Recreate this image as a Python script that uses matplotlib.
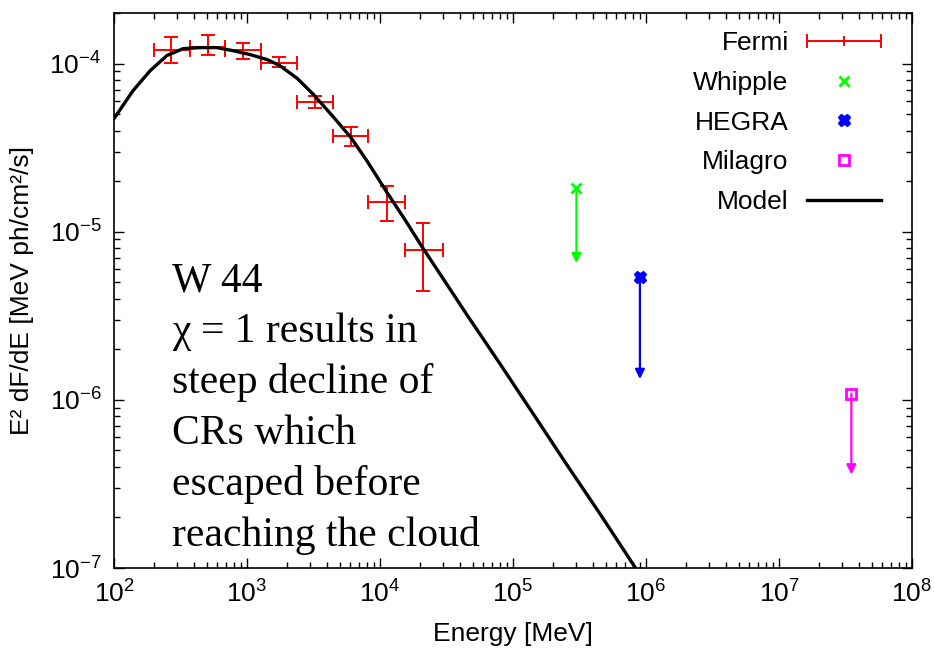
import matplotlib
matplotlib.use("Agg")
import matplotlib.pyplot as plt
from matplotlib.container import ErrorbarContainer
from matplotlib.legend_handler import HandlerErrorbar
from matplotlib.ticker import LogLocator, FixedLocator, NullFormatter

plt.rcParams["font.family"] = ["Liberation Sans", "DejaVu Sans"]
plt.rcParams["mathtext.default"] = "regular"

# Fermi points: bin centres / edges (MeV) and E^2 dF/dE with error range
fermi_e = [268, 509, 933, 1742, 3243, 6053, 11300, 21000]
fermi_elo = [200, 373, 684, 1274, 2376, 4432, 8130, 15400]
fermi_ehi = [373, 684, 1274, 2376, 4432, 8130, 15400, 29800]
fermi_f = [1.21e-4, 1.26e-4, 1.21e-4, 1.01e-4, 5.94e-5, 3.73e-5, 1.51e-5, 7.8e-6]
fermi_flo = [1.01e-4, 1.12e-4, 1.07e-4, 9.5e-5, 5.47e-5, 3.25e-5, 1.16e-5, 4.45e-6]
fermi_fhi = [1.43e-4, 1.47e-4, 1.32e-4, 1.09e-4, 6.45e-5, 4.22e-5, 1.88e-5, 1.12e-5]

# upper limits: energy, marker value, arrow tip value
ul_names = ["Whipple", "HEGRA", "Milagro"]
ul_e = [3.0e5, 9.0e5, 3.5e7]
ul_f = [1.83e-5, 5.4e-6, 1.09e-6]
ul_tip = [6.5e-6, 1.33e-6, 3.6e-7]
ul_colors = ["#00ff00", "#0000ff", "#ff00ff"]
ul_markers = ["x", "X", "s"]

# model curve
model_e = [100, 139, 187, 250, 330, 444, 594, 785, 1054, 1413, 1742, 2371,
           3133, 4436, 6053, 8000, 1.13e4, 1.54e4, 2.1e4, 2.5e4, 4.51e4,
           7.98e4, 1.413e5, 2.547e5, 4.51e5, 8.41e5]
model_f = [4.71e-5, 6.90e-5, 9.08e-5, 1.117e-4, 1.227e-4, 1.245e-4, 1.245e-4,
           1.194e-4, 1.132e-4, 1.057e-4, 9.8e-5, 8.2e-5, 6.6e-5, 4.84e-5,
           3.63e-5, 2.63e-5, 1.71e-5, 1.18e-5, 8.0e-6, 6.5e-6, 3.2e-6,
           1.64e-6, 8.3e-7, 4.1e-7, 2.1e-7, 9.9e-8]

note_lines = ["W 44", "\u03c7 = 1 results in", "steep decline of",
              "CRs which", "escaped before", "reaching the cloud"]

x_ticks = [1e2, 1e3, 1e4, 1e5, 1e6, 1e7, 1e8]
y_ticks = [1e-7, 1e-6, 1e-5, 1e-4]

fs = 19

fig = plt.figure(figsize=(9.35, 6.53), dpi=100)
ax = fig.add_axes([114 / 935, 1 - 568 / 653, 798 / 935, 555 / 653])
ax.set_xscale("log")
ax.set_yscale("log")
ax.set_xlim(1e2, 1e8)
ax.set_ylim(1e-7, 2e-4)

xerr = [[c - lo for c, lo in zip(fermi_e, fermi_elo)],
        [hi - c for c, hi in zip(fermi_e, fermi_ehi)]]
yerr = [[c - lo for c, lo in zip(fermi_f, fermi_flo)],
        [hi - c for c, hi in zip(fermi_f, fermi_fhi)]]
ax.errorbar(fermi_e, fermi_f, xerr=xerr, yerr=yerr, fmt="none", ecolor="#ff0000",
            elinewidth=1.4, capsize=5, capthick=1.4)
# legend entry: horizontal bar with centre tick, like gnuplot's key
fermi_key = ax.errorbar([float("nan")], [float("nan")], xerr=[1], fmt="|",
                        color="#ff0000", ms=7, mew=1.4, elinewidth=1.4,
                        capsize=5, capthick=1.4, label="Fermi")

handles = [fermi_key]
for name, e, f, tip, c, m in zip(ul_names, ul_e, ul_f, ul_tip, ul_colors, ul_markers):
    ax.annotate("", xy=(e, tip), xytext=(e, f),
                arrowprops=dict(arrowstyle="-|>", color=c, lw=1.6, mutation_scale=14,
                                shrinkA=0, shrinkB=0))
    mfc = "none" if m == "s" else c
    h, = ax.plot([e], [f], linestyle="none", marker=m, color=c, mfc=mfc, ms=7.5,
                 mew=2, label=name)
    handles.append(h)

h, = ax.plot(model_e, model_f, color="black", lw=2.4, label="Model")
handles.append(h)

for i, line in enumerate(note_lines):
    fig.text(172 / 935, 1 - (291 + 51 * i) / 653, line, family="Liberation Serif",
             fontsize=30, va="baseline", ha="left")

ax.xaxis.set_major_locator(FixedLocator(x_ticks))
ax.yaxis.set_major_locator(FixedLocator(y_ticks))
for axis in (ax.xaxis, ax.yaxis):
    axis.set_minor_locator(LogLocator(base=10, subs=range(2, 10), numticks=100))
    axis.set_minor_formatter(NullFormatter())
ax.tick_params(which="both", direction="in", top=True, right=True, labelsize=fs)
ax.tick_params(which="major", length=7, width=1, pad=9)
ax.tick_params(which="minor", length=4, width=1)
for s in ax.spines.values():
    s.set_linewidth(1.2)

ax.set_xlabel("Energy [MeV]", fontsize=fs, labelpad=10)
ax.set_ylabel("E\u00b2 dF/dE [MeV ph/cm\u00b2/s]", fontsize=fs)
ax.yaxis.set_label_coords(-0.1, 0.5)

ax.legend(handles=handles, loc="upper right", bbox_to_anchor=(881 / 935, 1 - 31 / 653),
          bbox_transform=fig.transFigure, frameon=False, markerfirst=False,
          fontsize=fs, handlelength=2.8, handletextpad=0.7, labelspacing=0.6,
          borderpad=0, borderaxespad=0,
          handler_map={ErrorbarContainer: HandlerErrorbar(xerr_size=1.4)})

fig.savefig("out.png", dpi=100)
